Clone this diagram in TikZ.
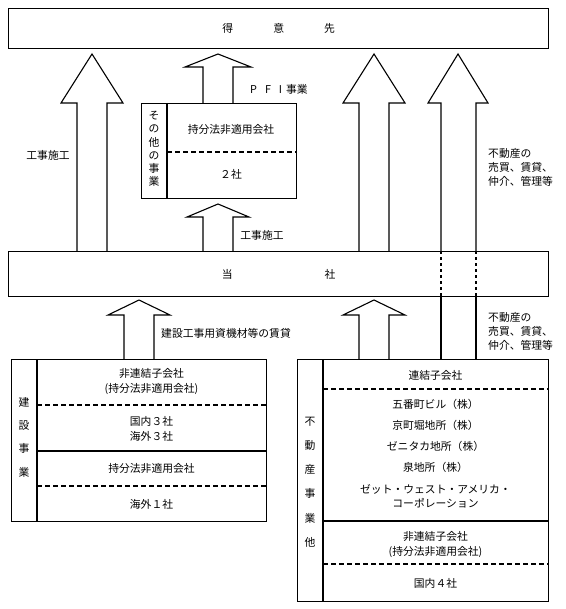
\documentclass[tikz,border=0pt]{standalone}
\usepackage{fontspec}
\setmainfont{Noto Sans CJK JP}
\usetikzlibrary{positioning}

\tikzset{
    frame/.style={draw, line width=1.3pt, inner sep=0pt, anchor=north west},
    txt/.style={inner sep=0pt, align=center, font=\fontsize{10.8}{15}\selectfont},
    divline/.style={line width=1.2pt, dash pattern=on 5pt off 3pt},
    blk/.style={line width=1.1pt, line join=miter},
}

% block arrow: centre x, start anchor, tip y, head y, half head width
\newcommand{\upblock}[5]{%
    \draw[blk] ({#1-15},0 |- #2) -- ({#1-15},#4) -- ({#1-#5},#4) -- (#1,#3)
        -- ({#1+#5},#4) -- ({#1+15},#4) -- ({#1+15},0 |- #2);}

\begin{document}
\begin{tikzpicture}[x=1pt, y=-1pt]
    \useasboundingbox (0,0) rectangle (565,609);

    % boxes
    \node[frame, minimum width=540pt, minimum height=40pt] (tokui) at (8,8) {};
    \node[frame, minimum width=540pt, minimum height=45pt] (tosha) at (8,251) {};
    \node[frame, minimum width=155pt, minimum height=95pt] (sonota) at (141,103) {};
    \node[frame, minimum width=255pt, minimum height=162pt] (kensetsu) at (11,359) {};
    \node[frame, minimum width=251pt, minimum height=242pt] (fudosan) at (297,359) {};

    \node[txt] (tokuilbl) at (tokui.center) {得\hspace{40pt}意\hspace{40pt}先};
    \node[txt] (toshalbl) at (tosha.center) {当\hspace{92pt}社};

    % other business
    \draw[line width=1.2pt] (167,0 |- sonota.north) -- (167,0 |- sonota.south);
    \draw[divline] (167,152) -- (sonota.east |- 0,152);
    \node[txt, font=\fontsize{10.8}{13.2}\selectfont] (sonotav) at (154,149) {そ\\の\\他\\の\\事\\業};
    \node[txt] (sonota1) at (231,129) {持分法非適用会社};
    \node[txt] (sonota2) at (231,174) {２社};

    % construction
    \draw[line width=1.2pt] (37,0 |- kensetsu.north) -- (37,0 |- kensetsu.south);
    \draw[divline] (37,405) -- (kensetsu.east |- 0,405);
    \draw[line width=1.2pt] (37,451) -- (kensetsu.east |- 0,451);
    \draw[divline] (37,486) -- (kensetsu.east |- 0,486);
    \node[txt, font=\fontsize{10.8}{23.3}\selectfont] (kensetsuv) at (24,437) {建\\設\\事\\業};
    \node[txt] (ken1) at (151.5,382) {非連結子会社\\(持分法非適用会社)};
    \node[txt] (ken2) at (151.5,429) {国内３社\\海外３社};
    \node[txt] (ken3) at (151.5,468) {持分法非適用会社};
    \node[txt] (ken4) at (151.5,504) {海外１社};

    % real estate
    \draw[line width=1.2pt] (323,0 |- fudosan.north) -- (323,0 |- fudosan.south);
    \draw[divline] (323,389) -- (fudosan.east |- 0,389);
    \draw[line width=1.2pt] (323,521) -- (fudosan.east |- 0,521);
    \draw[divline] (323,564) -- (fudosan.east |- 0,564);
    \node[txt, font=\fontsize{10.8}{24.2}\selectfont] (fudosanv) at (310,482) {不\\動\\産\\事\\業\\他};
    \node[txt] (fu1) at (435.5,375) {連結子会社};
    \node[txt] (fu2) at (435.5,404) {五番町ビル（株）};
    \node[txt] (fu3) at (435.5,425) {京町堀地所（株）};
    \node[txt] (fu4) at (435.5,446) {ゼニタカ地所（株）};
    \node[txt] (fu5) at (435.5,467) {泉地所（株）};
    \node[txt, font=\fontsize{10.8}{14}\selectfont] (fu6) at (435.5,496) {ゼット・ウェスト・アメリカ・\\コーポレーション};
    \node[txt] (fu7) at (435.5,545) {非連結子会社\\(持分法非適用会社)};
    \node[txt] (fu8) at (435.5,583) {国内４社};

    % arrows
    \upblock{92}{tosha.north}{54}{103}{31}
    \upblock{218}{sonota.north}{54}{67}{33}
    \upblock{374}{tosha.north}{54}{103}{31}
    \upblock{218}{tosha.north}{204}{217}{31}
    \upblock{139}{kensetsu.north}{300}{315}{31}
    \upblock{374}{fudosan.north}{300}{315}{31}

    % real estate arrow through the company box
    \draw[blk] (441,0 |- tosha.north) -- (441,103) -- (428,103) -- (458,54)
        -- (488,103) -- (476,103) -- (476,0 |- tosha.north);
    \draw[blk, dashed] (441,0 |- tosha.north) -- (441,0 |- tosha.south);
    \draw[blk, dashed] (476,0 |- tosha.north) -- (476,0 |- tosha.south);
    \draw[blk] (441,0 |- tosha.south) -- (441,0 |- fudosan.north);
    \draw[blk] (476,0 |- tosha.south) -- (476,0 |- fudosan.north);

    % labels
    \node[txt] (koji1) at (48,155) {工事施工};
    \node[txt] (koji2) at (262,235) {工事施工};
    \node[txt, anchor=west] (pfi) at (250,89) {P\hspace{8pt}F\hspace{8pt}I\hspace{4pt}事業};
    \node[txt, anchor=west] (lease) at (161,333) {建設工事用資機材等の賃貸};
    \node[txt, anchor=west, align=left, font=\fontsize{10.8}{14}\selectfont] (re1) at (488,167) {不動産の\\売買、賃貸、\\仲介、管理等};
    \node[txt, anchor=west, align=left, font=\fontsize{10.8}{14}\selectfont] (re2) at (488,331) {不動産の\\売買、賃貸、\\仲介、管理等};
\end{tikzpicture}
\end{document}
